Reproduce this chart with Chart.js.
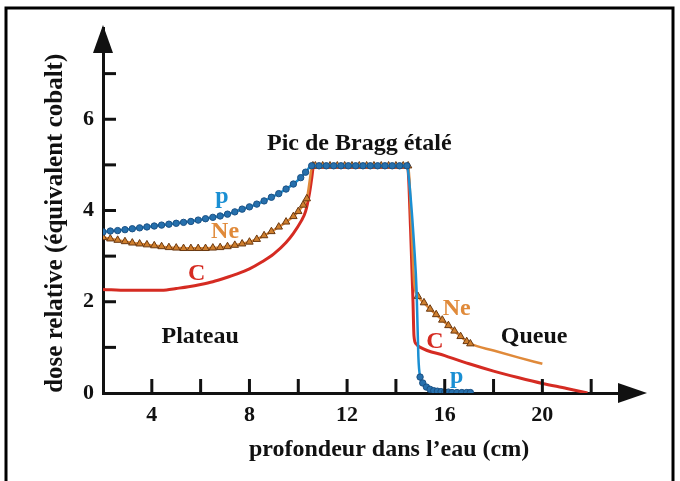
<!DOCTYPE html>
<html>
<head>
<meta charset="utf-8">
<script src="https://cdn.jsdelivr.net/npm/chart.js@4.4.1/dist/chart.umd.min.js"></script>
<style>
  html, body { margin: 0; padding: 0; background: #fff; }
  #wrap { width: 680px; height: 481px; }
</style>
</head>
<body>
<div id="wrap"><canvas id="chart" width="680" height="481"></canvas></div>
<script>
// profondeur (cm) / dose relative
const protonX = [2.0, 2.3, 2.6, 2.9, 3.2, 3.5, 3.8, 4.1, 4.4, 4.7, 5.0, 5.3, 5.6, 5.9, 6.2, 6.5, 6.8, 7.1, 7.4, 7.7,
  8.0, 8.3, 8.6, 8.9, 9.2, 9.5, 9.8, 10.1, 10.3, 10.55,
  10.85, 11.15, 11.45, 11.75, 12.05, 12.35, 12.65, 12.95, 13.25, 13.55, 13.85, 14.15, 14.45,
  14.55, 14.75, 14.85, 14.92, 14.99, 15.1, 15.25, 15.4, 15.55, 15.7, 15.85, 16.0, 16.15, 16.3, 16.5, 16.7, 16.9, 17.05];
const protonY = [3.53, 3.55, 3.56, 3.58, 3.60, 3.62, 3.64, 3.66, 3.68, 3.70, 3.72, 3.74, 3.76, 3.79, 3.82, 3.85, 3.88, 3.92, 3.97, 4.03,
  4.08, 4.14, 4.21, 4.29, 4.37, 4.47, 4.58, 4.72, 4.84, 4.98,
  4.98, 4.98, 4.98, 4.98, 4.98, 4.98, 4.98, 4.98, 4.98, 4.98, 4.98, 4.98, 4.98,
  4.6, 3.2, 2.2, 0.8, 0.35, 0.22, 0.13, 0.08, 0.05, 0.04, 0.03, 0.02, 0.02, 0.01, 0.01, 0.01, 0.01, 0.01];

const neonX = [2.0, 2.3, 2.6, 2.9, 3.2, 3.5, 3.8, 4.1, 4.4, 4.7, 5.0, 5.3, 5.6, 5.9, 6.2, 6.5, 6.8, 7.1, 7.4, 7.7,
  8.0, 8.3, 8.6, 8.9, 9.2, 9.5, 9.8, 10.0, 10.2, 10.35,
  10.6, 10.7, 11.0, 11.3, 11.6, 11.9, 12.2, 12.5, 12.8, 13.1, 13.4, 13.7, 14.0, 14.3, 14.5,
  14.65, 14.75, 14.9, 15.15, 15.4, 15.65, 15.9, 16.15, 16.4, 16.65, 16.9, 17.05, 18.0, 19.0, 20.0];
const neonY = [3.41, 3.38, 3.35, 3.32, 3.29, 3.27, 3.25, 3.23, 3.21, 3.19, 3.18, 3.17, 3.17, 3.17, 3.17, 3.18, 3.19, 3.21, 3.24, 3.27,
  3.31, 3.37, 3.45, 3.54, 3.64, 3.75, 3.87, 3.98, 4.12, 4.26,
  4.98, 4.98, 4.98, 4.98, 4.98, 4.98, 4.98, 4.98, 4.98, 4.98, 4.98, 4.98, 4.98, 4.98, 4.98,
  3.5, 2.4, 2.12, 1.98, 1.84, 1.72, 1.6, 1.48, 1.36, 1.24, 1.13, 1.08, 0.93, 0.78, 0.64];

const carbonX = [2.0, 3.0, 4.0, 4.6, 5.0, 5.5, 6.0, 6.5, 7.0, 7.5, 8.0, 8.5, 9.0, 9.5, 9.8, 10.1, 10.3, 10.45, 10.55, 10.62,
  14.48, 14.6, 14.7, 14.74, 14.82, 15.0, 16.0, 17.0, 18.0, 19.0, 20.0, 21.0, 21.85];
const carbonY = [2.27, 2.25, 2.25, 2.26, 2.29, 2.33, 2.38, 2.44, 2.52, 2.61, 2.72, 2.87, 3.05, 3.30, 3.50, 3.75, 3.98, 4.35, 4.70, 4.95,
  4.95, 3.6, 2.0, 1.25, 1.08, 1.0, 0.82, 0.64, 0.48, 0.34, 0.21, 0.10, 0.0];

const xTickLabels = [4, 8, 12, 16, 20];
const yTickLabels = [0, 2, 4, 6];

const serif = '"Liberation Serif", "Times New Roman", serif';
const blue = '#1a8fd3';
const orange = '#e08a3a';
const red = '#d52b22';

const notes = [
  { text: 'p', x: 6.87, y: 4.30, color: blue },
  { text: 'Ne', x: 7.0, y: 3.53, color: orange },
  { text: 'C', x: 5.84, y: 2.62, color: red },
  { text: 'Pic de Bragg étalé', x: 12.5, y: 5.47, color: '#111' },
  { text: 'Plateau', x: 5.98, y: 1.23, color: '#111' },
  { text: 'Ne', x: 16.49, y: 1.85, color: orange },
  { text: 'C', x: 15.6, y: 1.12, color: red },
  { text: 'p', x: 16.49, y: 0.35, color: blue },
  { text: 'Queue', x: 19.66, y: 1.23, color: '#111' }
];

const toPoints = (xs, ys) => xs.map((x, i) => ({ x: x, y: ys[i] }));

const decorations = {
  id: 'decorations',
  afterDraw(chart) {
    const { ctx, chartArea, scales } = chart;
    const xs = scales.x, ys = scales.y;
    const left = chartArea.left, bottom = chartArea.bottom;
    ctx.save();

    // cadre
    ctx.strokeStyle = '#000';
    ctx.lineWidth = 3;
    ctx.strokeRect(6, 8, 667, 490);

    // graduations vers l'intérieur
    ctx.lineWidth = 3;
    ctx.strokeStyle = '#111';
    for (let v = 1; v <= 7; v++) {
      const py = ys.getPixelForValue(v);
      ctx.beginPath(); ctx.moveTo(left, py); ctx.lineTo(left + 13, py); ctx.stroke();
    }
    for (let v = 4; v <= 22; v += 2) {
      const px = xs.getPixelForValue(v);
      ctx.beginPath(); ctx.moveTo(px, bottom); ctx.lineTo(px, bottom - 14); ctx.stroke();
    }

    // flèches
    ctx.fillStyle = '#111';
    ctx.beginPath();
    ctx.moveTo(left, 25); ctx.lineTo(left - 10, 53); ctx.lineTo(left + 10, 53); ctx.closePath();
    ctx.fill();
    ctx.beginPath();
    ctx.moveTo(647, bottom); ctx.lineTo(618, bottom - 10); ctx.lineTo(618, bottom + 10); ctx.closePath();
    ctx.fill();

    // textes
    ctx.font = 'bold 24px ' + serif;
    ctx.textAlign = 'center';
    ctx.textBaseline = 'middle';
    notes.forEach(n => {
      ctx.fillStyle = n.color;
      ctx.fillText(n.text, xs.getPixelForValue(n.x), ys.getPixelForValue(n.y));
    });

    ctx.fillStyle = '#111';
    ctx.fillText('profondeur dans l\u2019eau (cm)', xs.getPixelForValue(13.72), 450);
    ctx.translate(56, ys.getPixelForValue(3.72));
    ctx.rotate(-Math.PI / 2);
    ctx.font = 'bold 25px ' + serif;
    ctx.fillText('dose relative (équivalent cobalt)', 0, 0);
    ctx.restore();
  }
};

const ctx = document.getElementById('chart').getContext('2d');
new Chart(ctx, {
  type: 'line',
  data: {
    datasets: [
      {
        label: 'C',
        data: toPoints(carbonX, carbonY),
        borderColor: red,
        borderWidth: 3,
        pointRadius: 0,
        cubicInterpolationMode: 'monotone',
        order: 3
      },
      {
        label: 'Ne',
        data: toPoints(neonX, neonY),
        borderColor: orange,
        borderWidth: 2.5,
        pointStyle: 'triangle',
        pointRadius: c => {
          const p = c.raw;
          if (p.x > 17.1) return 0;
          if (p.x > 10.4 && p.y < 4.9 && p.y > 2.2) return 0;
          return 4.3;
        },
        pointBackgroundColor: '#cf7f2e',
        pointBorderColor: '#6a3810',
        pointBorderWidth: 1,
        cubicInterpolationMode: 'monotone',
        order: 2
      },
      {
        label: 'p',
        data: toPoints(protonX, protonY),
        borderColor: blue,
        borderWidth: 2.5,
        pointStyle: 'circle',
        pointRadius: c => (c.raw.x > 14.5 && c.raw.y > 0.4 && c.raw.y < 4.9) ? 0 : 3.2,
        pointBackgroundColor: '#2670ad',
        pointBorderColor: '#1b5184',
        pointBorderWidth: 1,
        cubicInterpolationMode: 'monotone',
        order: 1
      }
    ]
  },
  options: {
    responsive: false,
    devicePixelRatio: 1,
    animation: false,
    layout: { padding: { left: 0, top: 28, right: 40, bottom: 0 } },
    plugins: { legend: { display: false }, tooltip: { enabled: false } },
    scales: {
      x: {
        type: 'linear',
        min: 2,
        max: 24,
        grid: { display: false, drawTicks: false },
        border: { display: true, color: '#111', width: 3 },
        ticks: {
          stepSize: 2,
          padding: 9,
          color: '#111',
          font: { family: serif, size: 22, weight: 'bold' },
          callback: v => xTickLabels.includes(v) ? v : ''
        },
        afterFit: s => { s.height = 88; }
      },
      y: {
        type: 'linear',
        min: 0,
        max: 8,
        grid: { display: false, drawTicks: false },
        border: { display: true, color: '#111', width: 3 },
        ticks: {
          stepSize: 1,
          padding: 9,
          color: '#111',
          font: { family: serif, size: 22, weight: 'bold' },
          callback: v => yTickLabels.includes(v) ? v : ''
        },
        afterFit: s => { s.width = 103; }
      }
    }
  },
  plugins: [decorations]
});
</script>
</body>
</html>
